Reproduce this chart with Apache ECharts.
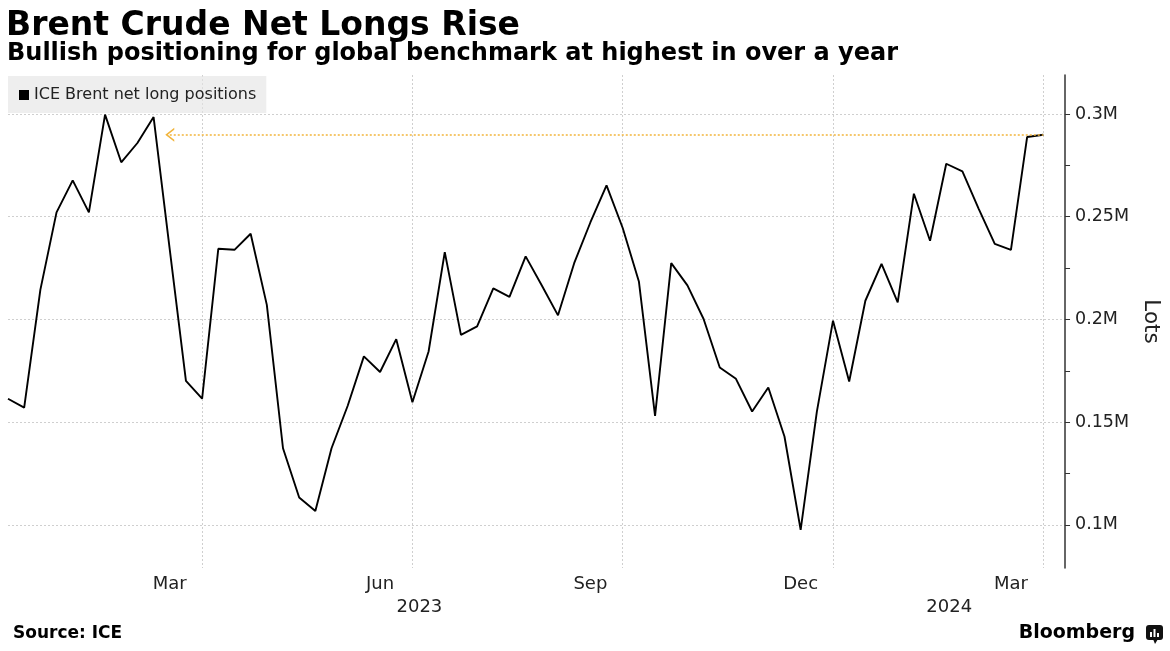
<!DOCTYPE html>
<html>
<head>
<meta charset="utf-8">
<script src="https://cdn.jsdelivr.net/npm/echarts@6/dist/echarts.min.js"></script>
<style>
  html, body { margin: 0; padding: 0; background: #fff; }
  #chart { width: 1170px; height: 651px; }
</style>
</head>
<body>
<div id="chart"></div>
<script>
// Weekly report dates (Tuesdays)
const dates = [
  '2023-01-10','2023-01-17','2023-01-24','2023-01-31','2023-02-07','2023-02-14','2023-02-21','2023-02-28',
  '2023-03-07','2023-03-14','2023-03-21','2023-03-28','2023-04-04','2023-04-11','2023-04-18','2023-04-25',
  '2023-05-02','2023-05-09','2023-05-16','2023-05-23','2023-05-30','2023-06-06','2023-06-13','2023-06-20',
  '2023-06-27','2023-07-04','2023-07-11','2023-07-18','2023-07-25','2023-08-01','2023-08-08','2023-08-15',
  '2023-08-22','2023-08-29','2023-09-05','2023-09-12','2023-09-19','2023-09-26','2023-10-03','2023-10-10',
  '2023-10-17','2023-10-24','2023-10-31','2023-11-07','2023-11-14','2023-11-21','2023-11-28','2023-12-05',
  '2023-12-12','2023-12-19','2023-12-26','2024-01-02','2024-01-09','2024-01-16','2024-01-23','2024-01-30',
  '2024-02-06','2024-02-13','2024-02-20','2024-02-27','2024-03-05','2024-03-12','2024-03-19','2024-03-26',
  '2024-04-02'
];

// ICE Brent net long positions (lots)
const netLongs = [
  161400, 157100, 214400, 252100, 267700, 252100, 299700, 276500,
  285900, 298500, 234000, 170100, 161400, 234400, 233900, 241700,
  207100, 137300, 113300, 106800, 137300, 158000, 182000, 174400,
  190400, 159700, 184400, 232800, 192500, 196600, 215100, 211000,
  230700, 216500, 202000, 227400, 247200, 265300, 244500, 218500,
  153100, 227400, 216600, 200200, 176600, 171100, 155200, 166900,
  143000, 97600, 155000, 199400, 169800, 209100, 227000, 208300,
  261200, 238300, 275800, 272100, 254000, 236800, 233900, 288800,
  289900
];

const seriesName = 'ICE Brent net long positions';

// x-axis tick labels
const monthTickDates = ['2023-03-21','2023-06-20','2023-09-19','2023-12-19','2024-03-19'];
const monthTickLabels = ['Mar','Jun','Sep','Dec','Mar'];
const quarterLineDates = ['2023-04-04','2023-07-04','2023-10-03','2024-01-02','2024-04-02'];
const yearTickDates = ['2023-07-04','2024-02-20'];
const yearTickLabels = ['2023','2024'];

// y-axis ticks / labels
const yMin = 79000;
const yMax = 319000;
const yTickValues = [100000,125000,150000,175000,200000,225000,250000,275000,300000];
const yLabelValues = [100000,150000,200000,250000,300000];

// highlighted level (latest reading) and where the arrow points
const highlightLevel = 289900;
const arrowStartDate = '2023-03-21';

const FONT = 'DejaVu Sans';
const chevron = 'path://M0,10 L5,0 L10,10 L8.6,10 L5,2.8 L1.4,10 Z';

const chart = echarts.init(document.getElementById('chart'), null, {renderer: 'canvas'});

const gridTop = 75, gridBottom = 651 - 568;

chart.setOption({
  animation: false,
  backgroundColor: '#ffffff',
  textStyle: { fontFamily: FONT },
  title: [
    { text: 'Brent Crude Net Longs Rise', left: 6, top: 10, padding: 0,
      textStyle: { fontFamily: FONT, fontSize: 33, fontWeight: 'bold', color: '#000' } },
    { text: 'Bullish positioning for global benchmark at highest in over a year', left: 7, top: 42, padding: 0,
      textStyle: { fontFamily: FONT, fontSize: 24, fontWeight: 'bold', color: '#000' } }
  ],
  legend: {
    left: 8, top: 76,
    orient: 'horizontal',
    backgroundColor: 'rgba(228,228,228,0.62)',
    padding: [11, 10, 10, 11],
    itemWidth: 10, itemHeight: 10,
    icon: 'rect',
    selectedMode: false,
    textStyle: { fontFamily: FONT, fontSize: 16, color: '#222' },
    data: [{ name: seriesName, itemStyle: { color: '#000' } }]
  },
  grid: [
    { left: 8, width: 1035.3, top: gridTop, bottom: gridBottom, containLabel: false },
    { left: 8, width: 1061.5, top: gridTop, bottom: gridBottom, containLabel: false }
  ],
  xAxis: [
    {
      type: 'category', gridIndex: 0, data: dates, boundaryGap: false, position: 'bottom',
      axisLine: { show: false }, axisTick: { show: false },
      axisLabel: {
        interval: (i, v) => monthTickDates.indexOf(v) >= 0,
        formatter: v => monthTickLabels[monthTickDates.indexOf(v)] || '',
        fontFamily: FONT, fontSize: 18, color: '#222', margin: 7
      },
      splitLine: {
        show: true,
        interval: (i, v) => quarterLineDates.indexOf(v) >= 0,
        lineStyle: { color: '#cfcfcf', type: [2, 2], width: 1 }
      }
    },
    {
      type: 'category', gridIndex: 0, data: dates, boundaryGap: false, position: 'bottom',
      axisLine: { show: false }, axisTick: { show: false }, splitLine: { show: false },
      axisLabel: {
        interval: (i, v) => yearTickDates.indexOf(v) >= 0,
        formatter: v => {
          const k = yearTickDates.indexOf(v);
          return k < 0 ? '' : '{y' + k + '|' + yearTickLabels[k] + '}';
        },
        rich: {
          y0: { fontFamily: FONT, fontSize: 18, color: '#222', padding: [0, 0, 0, 14] },
          y1: { fontFamily: FONT, fontSize: 18, color: '#222', padding: [0, 0, 0, 6] }
        },
        fontFamily: FONT, fontSize: 18, color: '#222', margin: 30
      }
    },
    { type: 'value', gridIndex: 1, min: 0, max: 1, show: false }
  ],
  yAxis: [
    { type: 'value', gridIndex: 0, min: yMin, max: yMax, show: false },
    {
      type: 'value', gridIndex: 1, min: yMin, max: yMax, position: 'right',
      name: 'Lots', nameLocation: 'middle', nameRotate: -90, nameGap: 74,
      nameTextStyle: { fontFamily: FONT, fontSize: 21.5, color: '#222' },
      axisLine: { show: true, onZero: false, lineStyle: { color: '#333', width: 1.5 } },
      axisTick: { show: true, length: 5, customValues: yTickValues, lineStyle: { color: '#333', width: 1 } },
      axisLabel: {
        customValues: yLabelValues,
        formatter: v => (v / 1e6) + 'M',
        fontFamily: FONT, fontSize: 17.5, color: '#222', margin: 10
      },
      splitLine: { show: false }
    },
    {
      type: 'value', gridIndex: 1, min: yMin, max: yMax, position: 'left',
      axisLine: { show: false, onZero: false }, axisLabel: { show: false },
      axisTick: { show: false, customValues: yLabelValues },
      splitLine: { show: true, lineStyle: { color: '#cfcfcf', type: [2, 2], width: 1 } }
    }
  ],
  series: [
    {
      name: seriesName, type: 'line', xAxisIndex: 0, yAxisIndex: 0,
      data: netLongs, showSymbol: false, symbol: 'none',
      lineStyle: { color: '#000', width: 1.9 },
      itemStyle: { color: '#000' },
      z: 3,
      markLine: {
        silent: true,
        animation: false,
        symbol: [chevron, 'none'],
        symbolSize: [14, 9],
        label: { show: false },
        lineStyle: { color: '#f2b53c', type: [2, 2], width: 1.6 },
        itemStyle: { color: '#f6c35e' },
        data: [[
          { coord: [arrowStartDate, highlightLevel] },
          { coord: [dates[dates.length - 1], highlightLevel] }
        ]]
      }
    }
  ],
  graphic: [
    { type: 'text', left: 13, top: 625,
      style: { text: 'Source: ICE', fontFamily: FONT, fontSize: 17, fontWeight: 'bold', fill: '#000' } },
    { type: 'text', right: 35, top: 624,
      style: { text: 'Bloomberg', fontFamily: FONT, fontSize: 19, fontWeight: 'bold', fill: '#000' } },
    { type: 'group', left: 1146, top: 625, children: [
      { type: 'rect', shape: { x: 0, y: 0, width: 17, height: 15, r: 3 }, style: { fill: '#111' } },
      { type: 'polygon', shape: { points: [[7, 14], [12, 14], [9, 19]] }, style: { fill: '#111' } },
      { type: 'rect', shape: { x: 4, y: 7, width: 2, height: 5 }, style: { fill: '#fff' } },
      { type: 'rect', shape: { x: 7.5, y: 4, width: 2, height: 8 }, style: { fill: '#fff' } },
      { type: 'rect', shape: { x: 11, y: 8, width: 2, height: 4 }, style: { fill: '#fff' } }
    ]}
  ]
});
</script>
</body>
</html>
